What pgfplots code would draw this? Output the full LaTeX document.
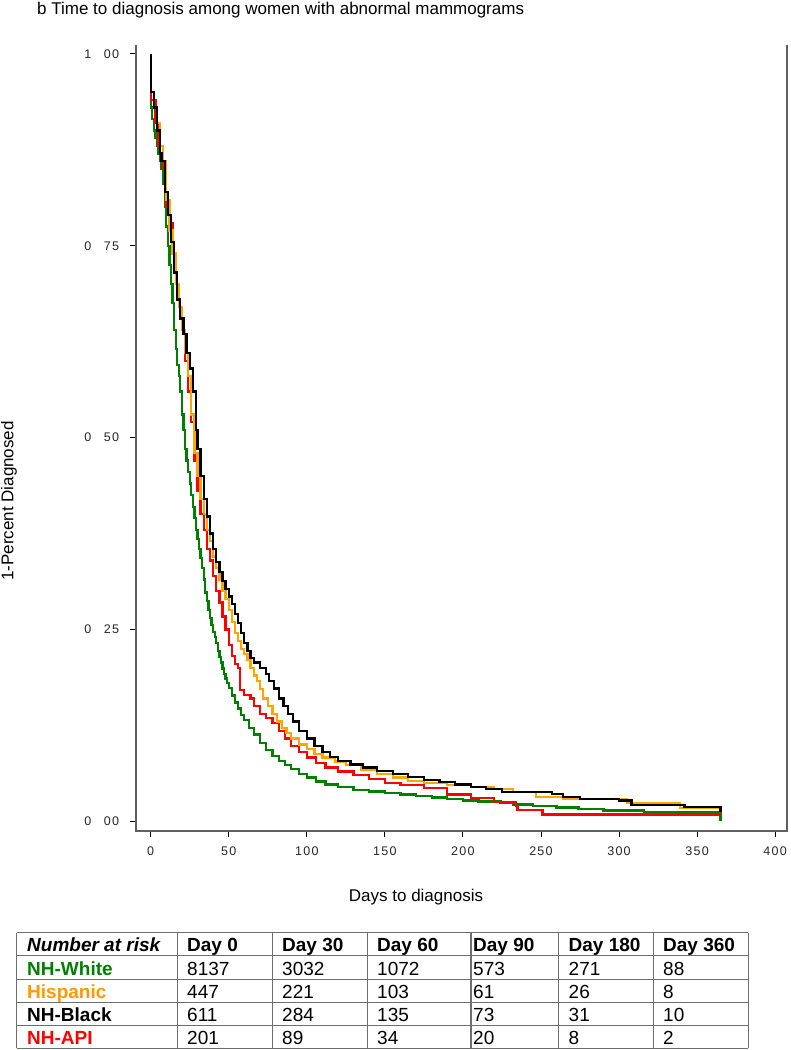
\documentclass[border=0pt]{standalone}
\usepackage{pgfplots}
\pgfplotsset{compat=1.18}
\usepackage{fontspec}
\setmainfont{Liberation Sans}
\newfontfamily\tickfont[LetterSpace=10]{Liberation Sans}
\definecolor{kmgreen}{RGB}{0,128,0}
\definecolor{kmorange}{RGB}{255,165,0}
\definecolor{kmred}{RGB}{255,0,0}
\definecolor{txtorange}{RGB}{255,153,0}
\definecolor{spine}{RGB}{95,95,95}
\definecolor{rule}{RGB}{110,110,110}

\begin{document}
\begin{tikzpicture}
\path[use as bounding box] (0pt,0pt) rectangle (791pt,-1050pt);
\node[anchor=base west,inner sep=0pt,font=\fontsize{17}{20}\selectfont] at (37pt,-14.5pt)
  {b Time to diagnosis among women with abnormal mammograms};
\node[rotate=90,inner sep=0pt,font=\fontsize{17}{20}\selectfont] at (9pt,-501pt) {1-Percent Diagnosed};
\node[inner sep=0pt,font=\fontsize{17}{20}\selectfont] at (416pt,-897pt) {Days to diagnosis};

\begin{axis}[
    at={(136pt,-831pt)}, anchor=south west,
    scale only axis, width=651pt, height=786pt,
    xmin=-9.4, xmax=407.6, ymin=-0.0126, ymax=1.0115,
    axis line style={draw=none},
    xtick pos=bottom, ytick pos=left,
    xtick={0,50,...,400},
    ytick={0,0.25,0.5,0.75,1},
    yticklabels={0\quad 00,0\quad 25,0\quad 50,0\quad 75,1\quad 00},
    tick align=outside, major tick length=5.5pt,
    tick style={black, line width=0.9pt},
    ticklabel style={font=\tickfont\fontsize{12.5}{12.5}\selectfont, text=black!85},
    xticklabel style={yshift=-7pt},
    yticklabel style={xshift=-8pt},
    /pgf/number format/assume math mode=true,
    clip=false,
    every axis plot/.append style={const plot, no markers, line width=2.3pt},
]
\addplot[kmgreen] coordinates {
(0,1.0)(0,0.93)(1,0.915)(2,0.90)(3,0.89)(4,0.88)(5,0.87)(6,0.86)(7,0.85)(8,0.83)
(9,0.80)(10,0.775)(11,0.75)(12,0.725)(13,0.70)(14,0.675)(15,0.64)(16,0.615)(17,0.595)
(18,0.58)(19,0.56)(20,0.53)(21,0.51)(22,0.485)(23,0.47)(24,0.455)(25,0.44)(26,0.425)
(27,0.41)(28,0.395)(29,0.38)(30,0.368)(31,0.355)(32,0.343)(33,0.33)(34,0.315)(35,0.298)
(36,0.287)(37,0.275)(38,0.265)(39,0.256)(40,0.247)(41,0.24)(42,0.232)(43,0.222)(44,0.214)
(45,0.207)(46,0.199)(47,0.192)(48,0.186)(49,0.18)(50,0.174)(52,0.164)(54,0.155)(56,0.147)
(58,0.139)(60,0.132)(63,0.122)(66,0.113)(70,0.102)(74,0.093)(78,0.085)(82,0.079)(86,0.073)
(90,0.068)(95,0.062)(100,0.057)(106,0.052)(112,0.048)(120,0.045)(130,0.041)(140,0.039)
(150,0.037)(160,0.035)(170,0.033)(180,0.031)(190,0.029)(200,0.027)(210,0.026)(224,0.024)
(232,0.022)(245,0.020)(260,0.018)(274,0.016)(290,0.014)(316,0.0115)(365,0.0115)(365,0)
};
\addplot[kmred] coordinates {
(0,1.0)(0,0.94)(3,0.91)(5,0.88)(8,0.85)(10,0.80)(12,0.78)(14,0.74)(16,0.70)(18,0.67)
(20,0.64)(22,0.60)(24,0.56)(26,0.52)(28,0.47)(30,0.43)(32,0.40)(34,0.38)(36,0.355)
(38,0.34)(40,0.32)(42,0.30)(44,0.285)(46,0.267)(48,0.25)(50,0.23)(52,0.215)(54,0.205)
(56,0.20)(57,0.171)(60,0.165)(64,0.160)(66,0.150)(70,0.140)(74,0.135)(78,0.128)(82,0.118)
(86,0.108)(90,0.098)(95,0.090)(100,0.083)(106,0.076)(112,0.070)(120,0.065)(130,0.060)
(140,0.055)(150,0.050)(160,0.047)(175,0.043)(190,0.035)(205,0.030)(220,0.025)(234,0.020)
(235,0.0147)(251,0.0147)(251,0.009)(365,0.009)
};
\addplot[kmorange] coordinates {
(0,1.0)(0,0.95)(2,0.93)(4,0.91)(6,0.88)(8,0.86)(10,0.81)(12,0.77)(14,0.74)(16,0.70)
(18,0.67)(20,0.64)(22,0.61)(24,0.58)(26,0.53)(28,0.48)(30,0.45)(32,0.42)(34,0.40)
(36,0.38)(38,0.365)(40,0.345)(42,0.33)(44,0.315)(46,0.30)(48,0.29)(50,0.275)(52,0.26)
(54,0.245)(56,0.235)(58,0.225)(60,0.218)(62,0.21)(64,0.20)(66,0.19)(68,0.183)(70,0.172)
(72,0.160)(75,0.150)(78,0.140)(81,0.130)(84,0.122)(87,0.115)(90,0.108)(95,0.100)(100,0.094)
(105,0.088)(110,0.083)(118,0.078)(125,0.073)(135,0.067)(145,0.062)(155,0.057)(165,0.053)
(175,0.050)(190,0.047)(205,0.045)(220,0.042)(232,0.0386)(247,0.032)(264,0.0287)(305,0.0235)
(339,0.017)(365,0.017)
};
\addplot[black] coordinates {
(0,1.0)(0,0.95)(2,0.93)(4,0.90)(6,0.87)(7,0.86)(9,0.82)(11,0.79)(13,0.755)(15,0.715)
(17,0.68)(19,0.655)(21,0.635)(23,0.61)(25,0.59)(27,0.56)(29,0.51)(30,0.485)(32,0.45)
(34,0.42)(36,0.397)(38,0.375)(40,0.355)(42,0.338)(44,0.325)(46,0.313)(48,0.303)(50,0.293)
(52,0.283)(54,0.27)(56,0.258)(58,0.245)(60,0.232)(62,0.222)(64,0.213)(66,0.207)(70,0.200)
(74,0.192)(76,0.183)(79,0.173)(82,0.160)(85,0.150)(88,0.140)(91,0.130)(95,0.118)(100,0.108)
(105,0.098)(110,0.090)(115,0.084)(120,0.079)(128,0.074)(136,0.070)(145,0.066)(155,0.062)
(165,0.058)(175,0.054)(185,0.051)(195,0.048)(205,0.045)(215,0.042)(225,0.0385)(257,0.0356)
(264,0.032)(275,0.0287)(300,0.027)(308,0.021)(342,0.019)(365,0.019)(365,0.0125)
};
\draw[spine, line width=1.6pt] (rel axis cs:0,1) -- (rel axis cs:0,0) -- (rel axis cs:1,0) -- (rel axis cs:1,1);
\end{axis}

% number at risk table
\foreach \x in {16.7,177.3,272.3,367.3,471,558.7,653.3,748.3}
  \draw[rule, line width=1.3pt] (\x pt,-932.7pt) -- (\x pt,-1048.3pt);
\foreach \y in {932.7,955.3,979.3,1002.3,1025.3,1048.3}
  \draw[rule, line width=1.3pt] (16.7pt,-\y pt) -- (748.3pt,-\y pt);
\begin{scope}[every node/.style={anchor=base west,inner sep=0pt,font=\fontsize{19}{22}\selectfont}]
\node at (27pt,-951pt) {\bfseries\itshape Number at risk};
\node at (187pt,-951pt) {\bfseries Day 0};
\node at (282pt,-951pt) {\bfseries Day 30};
\node at (377pt,-951pt) {\bfseries Day 60};
\node at (473pt,-951pt) {\bfseries Day 90};
\node at (568.5pt,-951pt) {\bfseries Day 180};
\node at (663pt,-951pt) {\bfseries Day 360};
% rows
\node[text=kmgreen] at (27pt,-975pt) {\bfseries NH-White};
\node at (187pt,-975pt) {8137}; \node at (282pt,-975pt) {3032}; \node at (377pt,-975pt) {1072};
\node at (473pt,-975pt) {573}; \node at (568.5pt,-975pt) {271}; \node at (663pt,-975pt) {88};
\node[text=txtorange] at (27pt,-998pt) {\bfseries Hispanic};
\node at (187pt,-998pt) {447}; \node at (282pt,-998pt) {221}; \node at (377pt,-998pt) {103};
\node at (473pt,-998pt) {61}; \node at (568.5pt,-998pt) {26}; \node at (663pt,-998pt) {8};
\node at (27pt,-1021pt) {\bfseries NH-Black};
\node at (187pt,-1021pt) {611}; \node at (282pt,-1021pt) {284}; \node at (377pt,-1021pt) {135};
\node at (473pt,-1021pt) {73}; \node at (568.5pt,-1021pt) {31}; \node at (663pt,-1021pt) {10};
\node[text=kmred] at (27pt,-1044pt) {\bfseries NH-API};
\node at (187pt,-1044pt) {201}; \node at (282pt,-1044pt) {89}; \node at (377pt,-1044pt) {34};
\node at (473pt,-1044pt) {20}; \node at (568.5pt,-1044pt) {8}; \node at (663pt,-1044pt) {2};
\end{scope}
\end{tikzpicture}
\end{document}
